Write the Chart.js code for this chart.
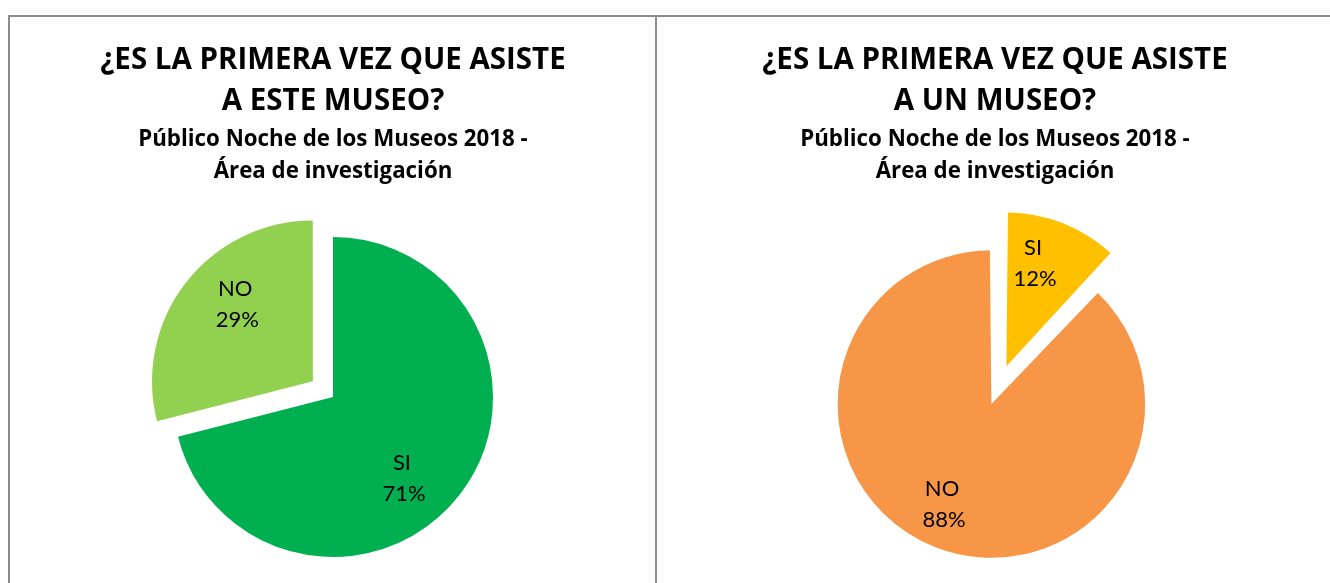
<!DOCTYPE html>
<html>
<head>
<meta charset="utf-8">
<script src="https://cdn.jsdelivr.net/npm/chart.js@4/dist/chart.umd.min.js"></script>
<style>
  html, body { margin: 0; padding: 0; background: #fff; overflow: hidden; width: 1330px; height: 583px; }
  .frame { position: absolute; left: 8px; top: 15px; width: 1340px; height: 600px; border-top: 2px solid #8c8c8c; border-left: 2px solid #8c8c8c; }
  .divider { position: absolute; left: 655px; top: 15px; width: 2px; height: 600px; background: #8c8c8c; }
  canvas { position: absolute; top: 16px; }
</style>
</head>
<body>
<div class="frame"></div>
<div class="divider"></div>
<canvas id="chartMuseo" width="646" height="620" style="left:10px"></canvas>
<canvas id="chartUnMuseo" width="676" height="620" style="left:657px"></canvas>
<script>
// data
var categories = ["SI", "NO"];
var valuesEsteMuseo = [71, 29];
var valuesUnMuseo = [12, 88];
var colorsEsteMuseo = ["#00B050", "#92D050"];
var colorsUnMuseo = ["#FFC000", "#F79646"];
var titleEsteMuseo = ["¿ES LA PRIMERA VEZ QUE ASISTE", "A ESTE MUSEO?"];
var titleUnMuseo = ["¿ES LA PRIMERA VEZ QUE ASISTE", "A UN MUSEO?"];
var subtitleText = ["Público Noche de los Museos 2018 -", "Área de investigación"];

// labels inside the slices: category + percent
// turn = angle tweak (deg) and dist = fraction of radius, to sit like excel does
var pieLabels = {
  id: "pieLabels",
  afterDatasetsDraw: function (chart, args, opts) {
    var ctx = chart.ctx;
    var ds = chart.data.datasets[0];
    var total = ds.data.reduce(function (a, b) { return a + b; }, 0);
    var turn = opts.turn || [];
    var dist = opts.dist || [];
    chart.getDatasetMeta(0).data.forEach(function (arc, i) {
      var p = arc.getProps(["x", "y", "startAngle", "endAngle", "outerRadius", "circumference"]);
      var mid = (p.startAngle + p.endAngle) / 2;
      var shift = (arc.options.offset || 0) / 4;
      var fix = 1 - Math.sin(Math.min(Math.PI, p.circumference));
      var r = p.outerRadius + shift * fix;
      var ax = p.x + Math.cos(mid) * shift;
      var ay = p.y + Math.sin(mid) * shift;
      var a = mid + (turn[i] || 0) * Math.PI / 180;
      var d = r * (dist[i] || 0.69);
      var x = ax + Math.cos(a) * d;
      var y = ay + Math.sin(a) * d;
      ctx.save();
      ctx.fillStyle = "#000";
      ctx.font = "22px Lato";
      ctx.textAlign = "center";
      ctx.textBaseline = "middle";
      ctx.fillText(chart.data.labels[i], x, y - 15.5);
      ctx.fillText(Math.round(ds.data[i] / total * 100) + "%", x + 2, y + 15.5);
      ctx.restore();
    });
  }
};

function makePie(id, values, colors, offsets, radius, title, padBottom, turn, dist) {
  var ctx = document.getElementById(id).getContext("2d");
  return new Chart(ctx, {
    type: "pie",
    data: {
      labels: categories,
      datasets: [
        {
          data: values,
          backgroundColor: colors,
          borderWidth: 0,
          offset: offsets,
          radius: radius,
        },
      ],
    },
    options: {
      responsive: false,
      animation: false,
      layout: { padding: { top: 0, left: 0, right: 0, bottom: padBottom } },
      plugins: {
        legend: { display: false },
        tooltip: { enabled: false },
        pieLabels: { turn: turn, dist: dist },
        title: {
          display: true,
          text: title,
          color: "#000",
          font: { family: "Open Sans", weight: "bold", size: 29.5, lineHeight: 41 / 29.5 },
          padding: { top: 24, bottom: 0 },
        },
        subtitle: {
          display: true,
          text: subtitleText,
          color: "#000",
          font: { family: "Open Sans", weight: "bold", size: 22.3, lineHeight: 32 / 22.3 },
          padding: { top: 1.5, bottom: 0 },
        },
      },
    },
    plugins: [pieLabels],
  });
}

makePie("chartMuseo", valuesEsteMuseo, colorsEsteMuseo, [0, 102], 160, titleEsteMuseo, 29.5, [11.8, 7], [0.665, 0.68]);
makePie("chartUnMuseo", valuesUnMuseo, colorsUnMuseo, [124, 39], 144, titleUnMuseo, 33.5, [-7, 4.5], [0.69, 0.73]);
</script>
</body>
</html>
